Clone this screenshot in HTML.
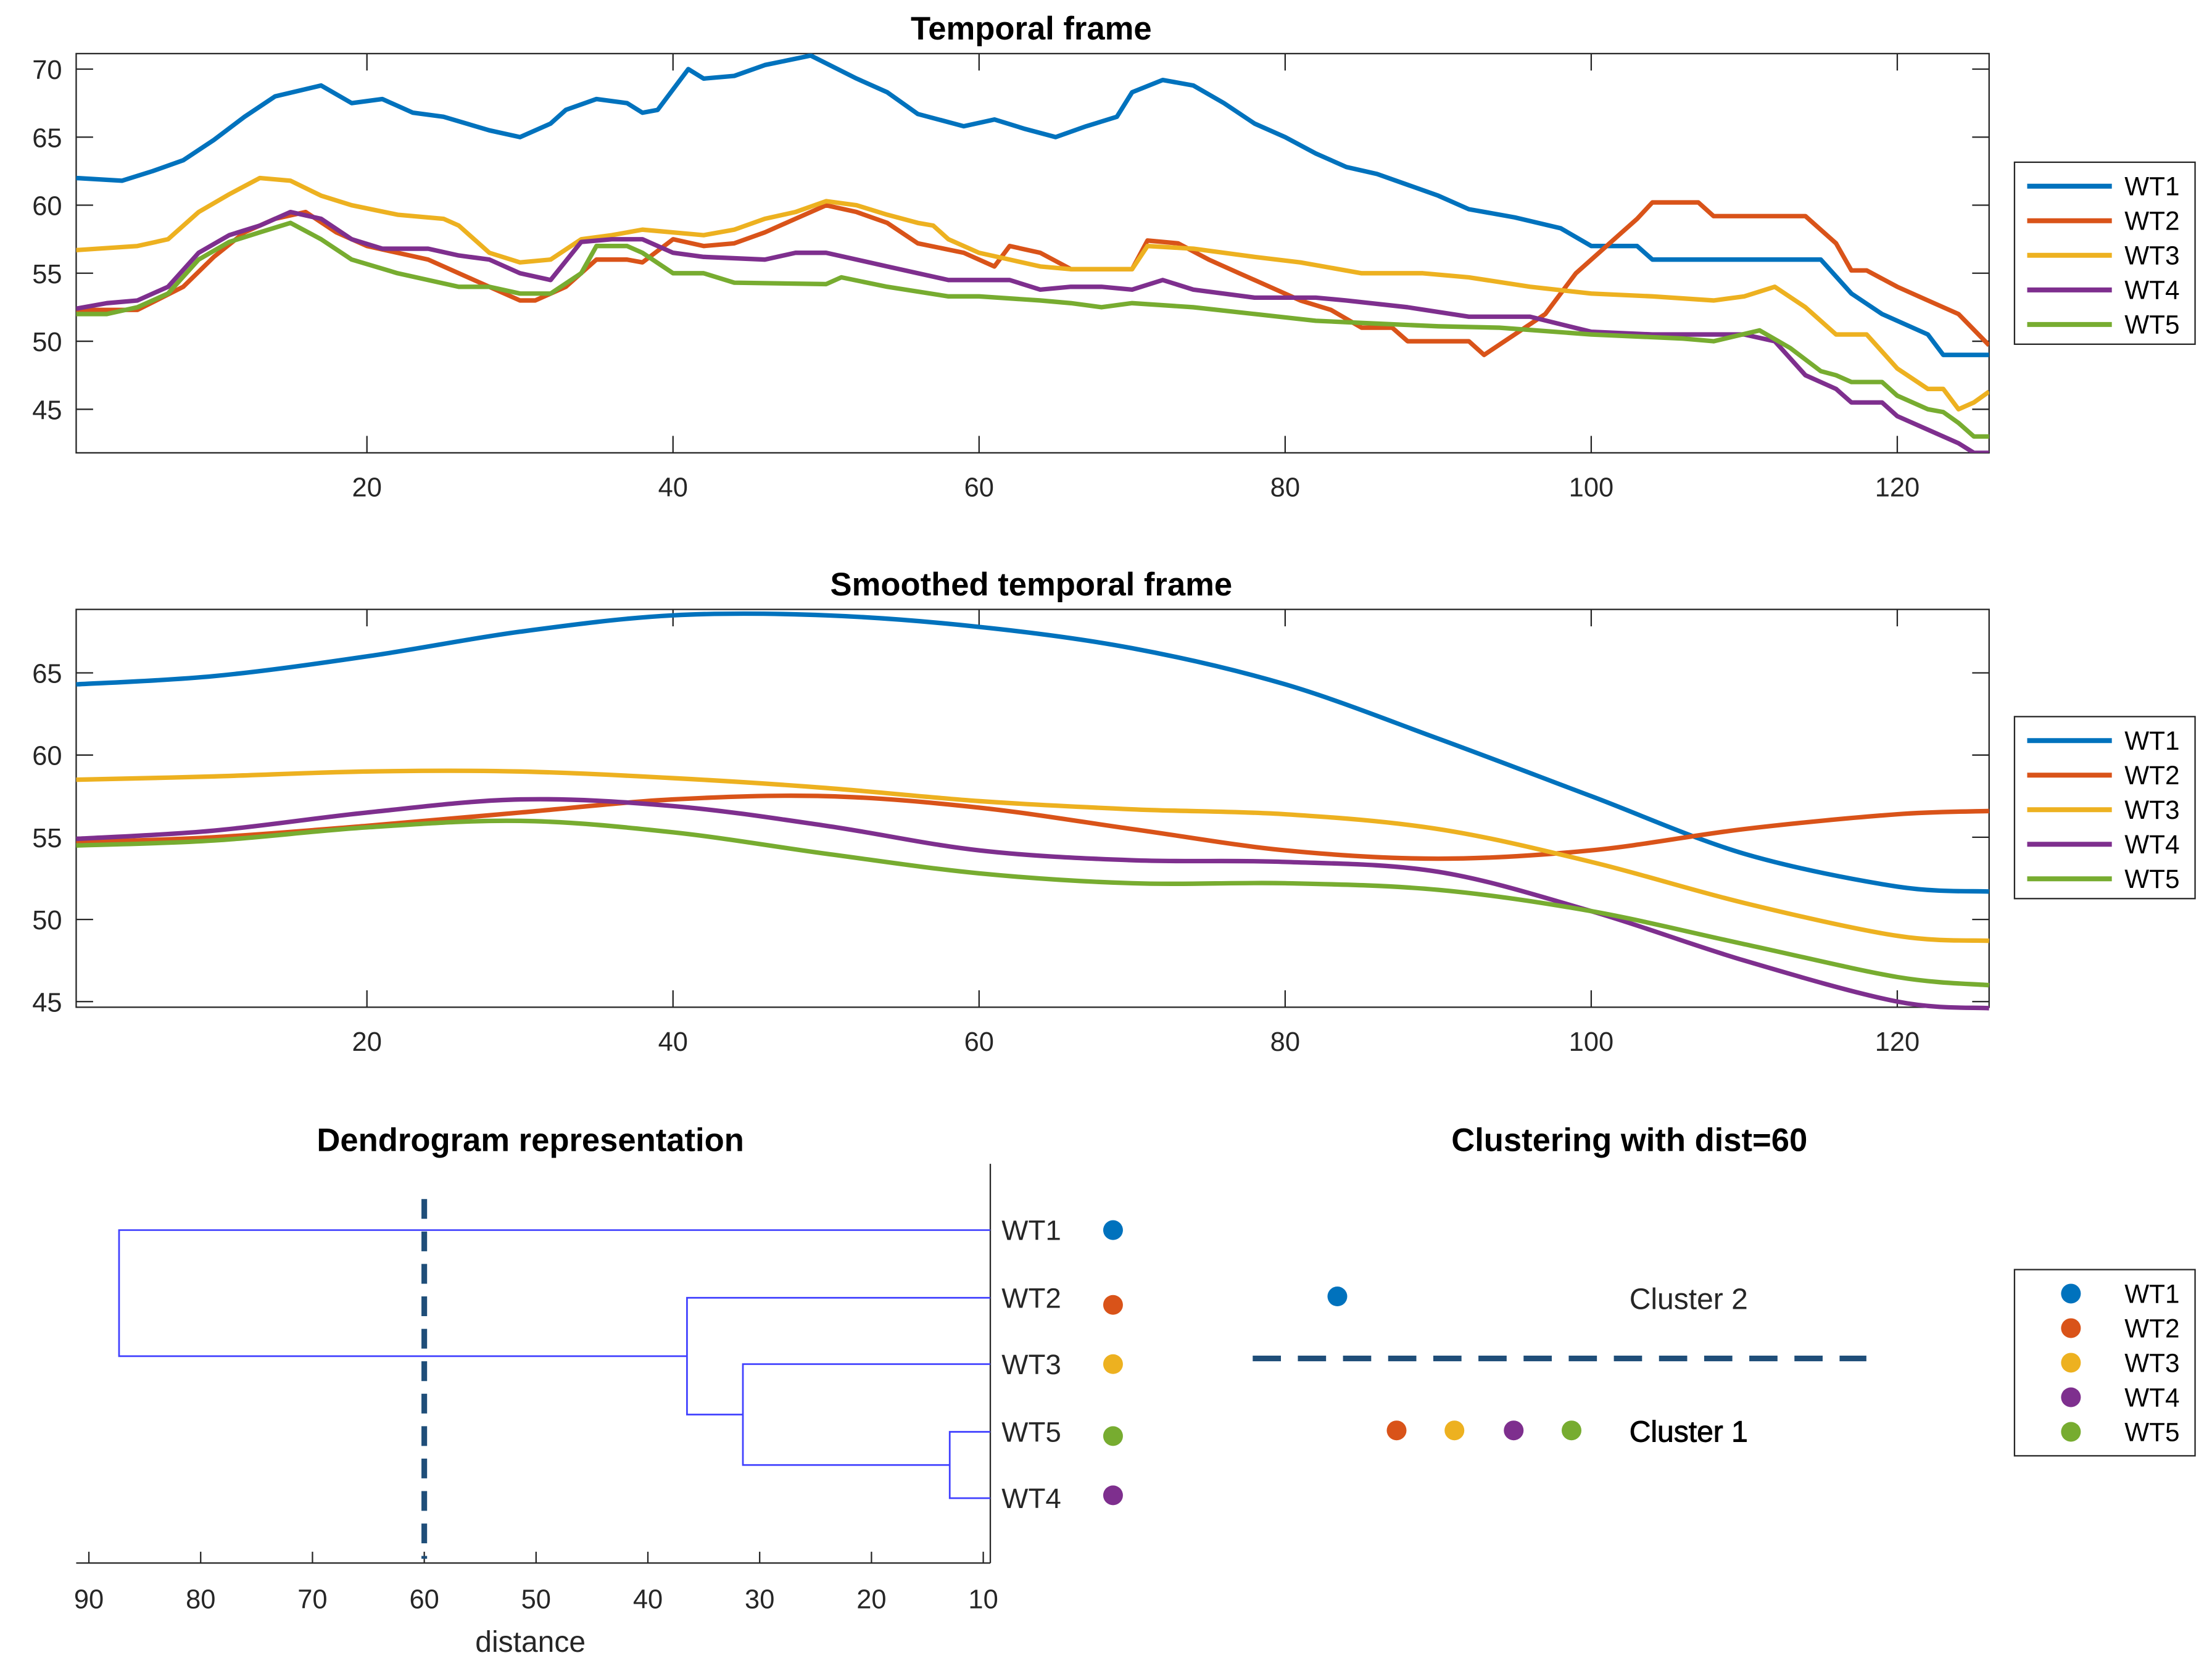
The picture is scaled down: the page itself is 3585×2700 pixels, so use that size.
<!DOCTYPE html>
<html><head><meta charset="utf-8"><style>
html,body{margin:0;padding:0;background:#fff}
svg{display:block;font-family:"Liberation Sans",sans-serif}
</style></head><body>
<svg id="root" width="3585" height="2700" viewBox="0 0 1568 1181" preserveAspectRatio="none" xmlns="http://www.w3.org/2000/svg">
<rect width="1568" height="1181" fill="#fff"/>
</svg>
<script>
const names=['WT1','WT2','WT3','WT4','WT5'];
const colors=['#0072BD','#D95319','#EDB120','#7E2F8E','#77AC30'];
// Temporal frame (x, value pairs)
const wt1Raw=[[1,62],[4,61.8],[6,62.5],[8,63.3],[10,64.8],[12,66.5],[14,68],[17,68.8],[19,67.5],[21,67.8],[23,66.8],[25,66.5],[28,65.5],[30,65],[32,66],[33,67],[35,67.8],[37,67.5],[38,66.8],[39,67],[41,70],[42,69.3],[44,69.5],[46,70.3],[49,71],[52,69.3],[54,68.3],[56,66.7],[59,65.8],[61,66.3],[63,65.6],[65,65],[67,65.8],[69,66.5],[70,68.3],[72,69.2],[74,68.8],[76,67.5],[78,66],[80,65],[82,63.8],[84,62.8],[86,62.3],[88,61.5],[90,60.7],[92,59.7],[95,59.1],[98,58.3],[100,57],[103,57],[104,56],[115,56],[117,53.5],[119,52],[122,50.5],[123,49],[126,49]];
const wt2Raw=[[1,52.3],[5,52.3],[8,54],[10,56.2],[12,58],[14,59],[16,59.5],[18,58],[20,57],[22,56.5],[24,56],[27,54.5],[30,53],[31,53],[33,54],[35,56],[37,56],[38,55.8],[40,57.5],[42,57],[44,57.2],[46,58],[48,59],[50,60],[52,59.5],[54,58.7],[56,57.2],[59,56.5],[61,55.5],[62,57],[64,56.5],[66,55.3],[70,55.3],[71,57.4],[73,57.2],[75,56],[77,55],[79,54],[81,53],[83,52.3],[85,51],[87,51],[88,50],[92,50],[93,49],[95,50.5],[97,52],[99,55],[101,57],[103,59],[104,60.2],[107,60.2],[108,59.2],[114,59.2],[116,57.2],[117,55.2],[118,55.2],[120,54],[122,53],[124,52],[126,49.7]];
const wt3Raw=[[1,56.7],[5,57],[7,57.5],[9,59.5],[11,60.8],[13,62],[15,61.8],[17,60.7],[19,60],[22,59.3],[25,59],[26,58.5],[28,56.5],[30,55.8],[32,56],[34,57.5],[36,57.8],[38,58.2],[42,57.8],[44,58.2],[46,59],[48,59.5],[50,60.3],[52,60],[54,59.3],[56,58.7],[57,58.5],[58,57.5],[60,56.5],[62,56],[64,55.5],[66,55.3],[70,55.3],[71,57],[74,56.8],[78,56.2],[81,55.8],[85,55],[89,55],[92,54.7],[96,54],[100,53.5],[104,53.3],[108,53],[110,53.3],[112,54],[114,52.5],[116,50.5],[118,50.5],[120,48],[122,46.5],[123,46.5],[124,45],[125,45.5],[126,46.3]];
const wt4Raw=[[1,52.4],[3,52.8],[5,53],[7,54],[9,56.5],[11,57.8],[13,58.5],[15,59.5],[17,59],[19,57.5],[21,56.8],[24,56.8],[26,56.3],[28,56],[30,55],[32,54.5],[34,57.3],[36,57.5],[38,57.5],[40,56.5],[42,56.2],[46,56],[48,56.5],[50,56.5],[52,56],[54,55.5],[56,55],[58,54.5],[62,54.5],[64,53.8],[66,54],[68,54],[70,53.8],[72,54.5],[74,53.8],[78,53.2],[82,53.2],[84,53],[88,52.5],[92,51.8],[96,51.8],[100,50.7],[104,50.5],[110,50.5],[112,50],[114,47.5],[116,46.5],[117,45.5],[119,45.5],[120,44.5],[122,43.5],[124,42.5],[125,41.8],[126,41.8]];
const wt5Raw=[[1,52],[3,52],[5,52.5],[7,53.5],[9,56],[11,57.3],[13,58],[15,58.7],[17,57.5],[19,56],[22,55],[26,54],[28,54],[30,53.5],[32,53.5],[34,55],[35,57],[37,57],[38,56.5],[40,55],[42,55],[44,54.3],[50,54.2],[51,54.7],[54,54],[58,53.3],[60,53.3],[64,53],[66,52.8],[68,52.5],[70,52.8],[74,52.5],[78,52],[82,51.5],[86,51.3],[90,51.1],[94,51],[100,50.5],[106,50.2],[108,50],[111,50.8],[113,49.5],[115,47.8],[116,47.5],[117,47],[119,47],[120,46],[122,45],[123,44.8],[124,44],[125,43],[126,43]];
// Smoothed frame
const smoothX=[1,10,20,30,40,50,60,70,80,90,100,110,120,126];
const wt1Smooth=[64.3,64.8,66,67.5,68.5,68.5,67.8,66.5,64.3,61,57.5,54,52,51.7];
const wt2Smooth=[54.7,55,55.7,56.5,57.3,57.5,56.8,55.5,54.2,53.7,54.2,55.5,56.4,56.6];
const wt3Smooth=[58.5,58.7,59,59,58.6,58,57.2,56.7,56.4,55.5,53.5,51,49,48.7];
const wt4Smooth=[54.9,55.4,56.5,57.3,56.9,55.7,54.2,53.6,53.5,52.9,50.5,47.5,45,44.6];
const wt5Smooth=[54.5,54.8,55.6,56,55.3,54,52.8,52.2,52.2,51.8,50.5,48.5,46.5,46];
const xTicks=[20,40,60,80,100,120];
const y1Ticks=[45,50,55,60,65,70];
const y2Ticks=[45,50,55,60,65];
// Dendrogram
const leafOrder=['WT1','WT2','WT3','WT5','WT4'];
const leafColors=['#0072BD','#D95319','#EDB120','#77AC30','#7E2F8E'];
const mergeDist=[13,31.5,36.5,87.3];
const dTicks=[90,80,70,60,50,40,30,20,10];
const cutDist=60;

const S='http://www.w3.org/2000/svg';
const root=document.getElementById('root');
function mk(tag,attrs,parent,txt){const e=document.createElementNS(S,tag);for(const k in attrs)e.setAttribute(k,attrs[k]);if(txt!==undefined)e.textContent=txt;(parent||root).appendChild(e);return e;}

function axesPanel(name,top,bot,ymin,ymax,yt,title){
  const L=54,R=1410,xmin=1,xmax=126;
  const sx=v=>L+(v-xmin)/(xmax-xmin)*(R-L);
  const sy=v=>bot-(v-ymin)/(ymax-ymin)*(bot-top);
  const g=mk('g',{});
  
  
  const t=mk('text',{x:731,y:top-10,'text-anchor':'middle','font-size':'23','font-weight':'bold',fill:'#000'},g,title);
  
  mk('rect',{x:L,y:top,width:R-L,height:bot-top,fill:'#fff',stroke:'#262626','stroke-width':'1'},g);
  xTicks.forEach(v=>{const x=sx(v);mk('line',{x1:x,x2:x,y1:bot,y2:bot-12,stroke:'#262626'},g);mk('line',{x1:x,x2:x,y1:top,y2:top+12,stroke:'#262626'},g);
    const tl=mk('text',{x:x,y:bot+31,'text-anchor':'middle','font-size':'19',fill:'#262626'},g,v);});
  yt.forEach(v=>{const y=sy(v);mk('line',{x1:L,x2:L+12,y1:y,y2:y,stroke:'#262626'},g);mk('line',{x1:R,x2:R-12,y1:y,y2:y,stroke:'#262626'},g);
    const tl=mk('text',{x:L-10,y:y+7,'text-anchor':'end','font-size':'19',fill:'#262626'},g,v);});
  return {g,sx,sy,L,R,top,bot};
}
function legend(name,y0,h,dots){
  const g=mk('g',{});
  
  
  mk('rect',{x:1428,y:y0,width:128,height:h,fill:'#fff',stroke:'#262626','stroke-width':'1'},g);
  names.forEach((n,i)=>{const y=y0+17+i*24.5;
    if(dots)mk('circle',{cx:1468,cy:y,r:7,fill:colors[i]},g);
    else mk('line',{x1:1437,x2:1497,y1:y,y2:y,stroke:colors[i],'stroke-width':'3.5'},g);
    const t=mk('text',{x:1506,y:y+6.5,'font-size':'18.5',fill:'#000'},g,n);});
}
// Panel 1
const p1=axesPanel('temporal-frame-chart',38,321,41.8,71.14,y1Ticks,'Temporal frame');
const clip1=mk('clipPath',{id:'c1'});mk('rect',{x:p1.L,y:p1.top,width:p1.R-p1.L,height:p1.bot-p1.top},clip1);
[wt1Raw,wt2Raw,wt3Raw,wt4Raw,wt5Raw].forEach((d,i)=>{
  const p=mk('path',{d:'M'+d.map(q=>p1.sx(q[0]).toFixed(1)+','+p1.sy(q[1]).toFixed(1)).join('L'),fill:'none',stroke:colors[i],'stroke-width':'3.2','stroke-linejoin':'round','clip-path':'url(#c1)'},p1.g);
  
});
legend('temporal-legend',115,129,false);
// Panel 2
const p2=axesPanel('smoothed-frame-chart',432,714,44.66,68.86,y2Ticks,'Smoothed temporal frame');
function smoothPath(pts){let d='M'+pts[0][0]+','+pts[0][1];for(let i=0;i<pts.length-1;i++){const p0=pts[i-1]||pts[i],p1_=pts[i],p2_=pts[i+1],p3=pts[i+2]||p2_;
  const c1x=p1_[0]+(p2_[0]-p0[0])/6,c1y=p1_[1]+(p2_[1]-p0[1])/6,c2x=p2_[0]-(p3[0]-p1_[0])/6,c2y=p2_[1]-(p3[1]-p1_[1])/6;
  d+=`C${c1x.toFixed(1)},${c1y.toFixed(1)} ${c2x.toFixed(1)},${c2y.toFixed(1)} ${p2_[0].toFixed(1)},${p2_[1].toFixed(1)}`;}return d;}
[wt1Smooth,wt2Smooth,wt3Smooth,wt4Smooth,wt5Smooth].forEach((d,i)=>{
  const pts=d.map((v,j)=>[p2.sx(smoothX[j]),p2.sy(v)]);
  const p=mk('path',{d:smoothPath(pts),fill:'none',stroke:colors[i],'stroke-width':'3.2'},p2.g);
  
});
legend('smoothed-legend',508,129,false);
// Dendrogram
const dg=mk('g',{});


const dx=v=>697-(v-10)*7.925;
const leafY=[872,920,967,1015,1062];
const dt=mk('text',{x:376,y:816,'text-anchor':'middle','font-size':'23','font-weight':'bold'},dg,'Dendrogram representation');

mk('line',{x1:54,x2:702,y1:1108,y2:1108,stroke:'#262626'},dg);
mk('line',{x1:702,x2:702,y1:825,y2:1108,stroke:'#262626'},dg);
dTicks.forEach(v=>{const x=dx(v);mk('line',{x1:x,x2:x,y1:1108,y2:1100,stroke:'#262626'},dg);
  const t=mk('text',{x:x,y:1140,'text-anchor':'middle','font-size':'19',fill:'#262626'},dg,v);});
const xl=mk('text',{x:376,y:1171,'text-anchor':'middle','font-size':'21',fill:'#262626'},dg,'distance');

const blue='#4040ff';
function link(x,ya,yb,xa,xb){mk('path',{d:`M${xa},${ya}H${x}V${yb}H${xb}`,fill:'none',stroke:blue,'stroke-width':'1.2'},dg);}
const m0=dx(mergeDist[0]),m1=dx(mergeDist[1]),m2=dx(mergeDist[2]),m3=dx(mergeDist[3]);
link(m0,leafY[3],leafY[4],702,702);
const y01=(leafY[3]+leafY[4])/2;link(m1,leafY[2],y01,702,m0);
const y12=(leafY[2]+y01)/2;link(m2,leafY[1],y12,702,m1);
const y23=(leafY[1]+y12)/2;link(m3,leafY[0],y23,702,m2);
mk('line',{x1:dx(cutDist),x2:dx(cutDist),y1:850,y2:1105,stroke:'#1f4e79','stroke-width':'4','stroke-dasharray':'14,9'},dg);
leafOrder.forEach((n,i)=>{const t=mk('text',{x:710,y:leafY[i]+7,'font-size':'20',fill:'#262626'},dg,n);
  mk('circle',{cx:789,cy:leafY[i]+[0,5,0,3,-2][i],r:7,fill:leafColors[i]},dg);});
// Clustering
const cg=mk('g',{});


const ct=mk('text',{x:1155,y:816,'text-anchor':'middle','font-size':'23','font-weight':'bold'},cg,'Clustering with dist=60');

mk('circle',{cx:948,cy:919,r:7,fill:colors[0]},cg);
const c2=mk('text',{x:1155,y:928,'font-size':'21',fill:'#262626'},cg,'Cluster 2');
mk('line',{x1:888,x2:1323,y1:963,y2:963,stroke:'#1f4e79','stroke-width':'4','stroke-dasharray':'20,12'},cg);
[990,1031,1073,1114].forEach((x,i)=>mk('circle',{cx:x,cy:1014,r:7,fill:colors[i+1]},cg));
const c1=mk('text',{x:1155,y:1022,'font-size':'21',fill:'#000',stroke:'#000','stroke-width':'0.4'},cg,'Cluster 1');
legend('cluster-legend',900,132,true);
</script>
</body></html>
